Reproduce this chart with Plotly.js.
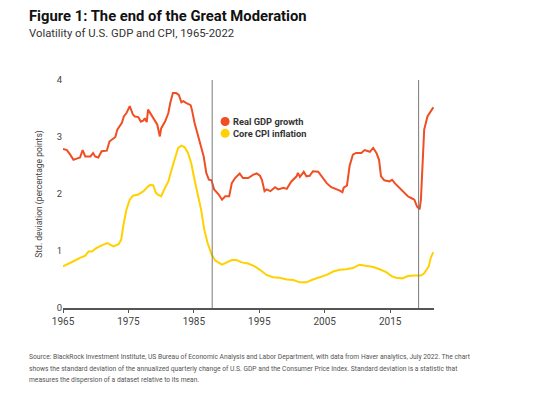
<!DOCTYPE html>
<html><head><meta charset="utf-8">
<script src="https://cdn.plot.ly/plotly-3.0.1.min.js"></script>
<style>html,body{margin:0;padding:0;background:#fff;}#chart{width:558px;height:397px;}</style>
</head><body><div id="chart"></div>
<script>
const gdpYears = [1965,1965.6,1966.1,1966.6,1967.1,1967.6,1968.0,1968.4,1969.2,1969.6,1969.9,1970.4,1970.9,1971.7,1972.1,1973.0,1973.3,1974.0,1974.3,1974.7,1975.2,1975.7,1976.0,1976.5,1976.9,1977.3,1977.5,1977.8,1978.0,1978.5,1979.0,1979.4,1979.8,1980.0,1980.6,1981.1,1981.4,1981.8,1982.3,1982.7,1983.1,1983.4,1983.8,1984.5,1984.7,1985.1,1985.6,1986.1,1986.5,1986.9,1987.3,1987.7,1988.1,1988.8,1989.3,1989.8,1990.4,1990.8,1991.3,1992.0,1992.5,1993.3,1994.1,1994.6,1995.1,1995.4,1995.8,1996.1,1996.7,1997.4,1997.9,1998.7,1999.2,1999.9,2000.7,2000.9,2001.2,2001.8,2002.2,2002.7,2003.2,2004.0,2004.5,2005.3,2006.0,2006.8,2007.3,2007.7,2007.9,2008.4,2008.8,2009.3,2009.8,2010.6,2011.1,2011.9,2012.4,2012.9,2013.3,2013.6,2014.1,2014.9,2015.3,2015.7,2016.2,2016.9,2017.7,2018.2,2018.7,2019.1,2019.5,2019.7,2020.2,2020.7,2021.2,2021.6];
const gdpValues = [2.79,2.77,2.69,2.60,2.62,2.64,2.77,2.66,2.66,2.72,2.66,2.64,2.75,2.76,2.92,3.00,3.13,3.25,3.36,3.42,3.54,3.39,3.36,3.35,3.27,3.29,3.33,3.26,3.48,3.39,3.30,3.22,3.01,3.15,3.27,3.42,3.60,3.77,3.77,3.74,3.61,3.63,3.60,3.56,3.48,3.25,3.04,2.84,2.66,2.37,2.25,2.24,2.08,1.99,1.90,1.96,1.96,2.19,2.28,2.36,2.28,2.28,2.34,2.36,2.32,2.25,2.05,2.08,2.05,2.12,2.08,2.11,2.09,2.22,2.31,2.37,2.30,2.39,2.31,2.32,2.40,2.39,2.31,2.19,2.12,2.09,2.06,2.03,2.11,2.15,2.49,2.69,2.72,2.72,2.77,2.74,2.81,2.72,2.60,2.31,2.24,2.22,2.25,2.19,2.13,2.05,1.96,1.93,1.90,1.78,1.73,1.90,3.13,3.36,3.45,3.52];
const cpiYears = [1965,1965.6,1966.6,1967.6,1968.4,1968.9,1969.4,1970.1,1970.9,1971.8,1972.2,1972.7,1973.5,1973.9,1974.2,1974.7,1975.2,1975.7,1976.5,1977.3,1977.8,1978.3,1978.8,1979.2,1979.5,1980.0,1980.6,1981.1,1981.6,1982.1,1982.6,1983.1,1983.6,1984.1,1984.6,1985.1,1985.6,1986.1,1986.6,1987.1,1987.7,1988.3,1989.3,1990.0,1990.8,1991.5,1992.3,1993.3,1994.3,1995.1,1996.1,1997.1,1998.1,1999.2,2000.2,2001.2,2002.2,2003.2,2004.2,2005.3,2006.3,2007.3,2008.3,2009.3,2009.8,2010.3,2011.3,2012.4,2013.4,2014.4,2015.2,2015.9,2016.9,2017.7,2018.7,2019.7,2020.2,2020.9,2021.2,2021.6];
const cpiValues = [0.73,0.76,0.82,0.88,0.92,0.99,0.99,1.05,1.10,1.14,1.11,1.08,1.12,1.20,1.43,1.73,1.90,1.97,1.99,2.05,2.11,2.16,2.15,2.02,1.99,1.96,2.11,2.22,2.43,2.60,2.81,2.85,2.82,2.72,2.54,2.25,1.96,1.73,1.37,1.14,0.94,0.83,0.76,0.80,0.84,0.84,0.80,0.78,0.73,0.67,0.58,0.54,0.53,0.50,0.49,0.45,0.45,0.50,0.54,0.58,0.64,0.67,0.68,0.70,0.73,0.76,0.74,0.72,0.68,0.63,0.56,0.53,0.52,0.56,0.57,0.57,0.61,0.73,0.88,0.98];
const markerYears = [1987.8, 2019.35];
const xTicks = [1965,1975,1985,1995,2005,2015];
const yTicks = [0,1,2,3,4];
const seriesNames = ['Real GDP growth','Core CPI inflation'];
const seriesColors = ['#F04E23','#FFD100'];
const footLines = [
  'Source: BlackRock Investment Institute, US Bureau of Economic Analysis and Labor Department, with data from Haver analytics, July 2022. The chart',
  'shows the standard deviation of the annualized quarterly change of U.S. GDP and the Consumer Price Index. Standard deviation is a statistic that',
  'measures the dispersion of a dataset relative to its mean.'
];

const traces = [
  {x: cpiYears, y: cpiValues, mode:'lines', line:{color:seriesColors[1], width:2}, showlegend:false, hoverinfo:'skip'},
  {x: gdpYears, y: gdpValues, mode:'lines', line:{color:seriesColors[0], width:2}, showlegend:false, hoverinfo:'skip'}
];
const shapes = markerYears.map(v => ({type:'line', xref:'x', yref:'paper', x0:v, x1:v, y0:0, y1:1, line:{color:'#7a7a7a', width:1}}));
const legX = [0.437, 0.437], legY = [0.818, 0.766];
seriesNames.forEach((n,i)=>{
  shapes.push({type:'circle', xref:'paper', yref:'paper', xsizemode:'pixel', ysizemode:'pixel', xanchor:legX[i], yanchor:legY[i], x0:-4.5, x1:4.5, y0:-4.5, y1:4.5, fillcolor:seriesColors[i], line:{width:0}});
});
const annotations = [
  {text:'<b>Figure 1: The end of the Great Moderation</b>', xref:'paper', yref:'paper', x:-0.097, y:1.281, xanchor:'left', yanchor:'middle', showarrow:false, font:{family:'Roboto, sans-serif', size:14.8, color:'#111'}},
  {text:'Volatility of U.S. GDP and CPI, 1965-2022', xref:'paper', yref:'paper', x:-0.097, y:1.206, xanchor:'left', yanchor:'middle', showarrow:false, font:{family:'Roboto, sans-serif', size:11.3, color:'#333'}}
];
const footY = [357, 369, 380];
footLines.forEach((t,i)=>{
  annotations.push({text:t, xref:'paper', yref:'paper', x:-0.097, y:(308-footY[i])/228, xanchor:'left', yanchor:'middle', align:'left', showarrow:false, font:{family:'Roboto, sans-serif', size:6.7, color:'#555'}});
});
seriesNames.forEach((n,i)=>{
  annotations.push({text:'<b>'+n+'</b>', xref:'paper', yref:'paper', x:legX[i]+0.018, y:legY[i], xanchor:'left', yanchor:'middle', showarrow:false, borderpad:0, font:{family:'Roboto, sans-serif', size:9.3, color:'#333'}});
});

const layout = {
  width:558, height:397,
  margin:{l:63, r:124, t:80, b:89},
  paper_bgcolor:'#fff', plot_bgcolor:'#fff',
  showlegend:false,
  xaxis:{range:[1965,2021.7], tickvals:xTicks, ticktext:xTicks.map(String), showgrid:false, zeroline:false, showline:true, linecolor:'#555', linewidth:1.5, ticks:'outside', ticklen:3, tickcolor:'#555', tickfont:{family:'Roboto, sans-serif', size:10, color:'#444'}},
  yaxis:{range:[0,4], tickvals:yTicks, ticktext:yTicks.map(String), showgrid:false, zeroline:false, showline:false, ticks:'', tickfont:{family:'Roboto, sans-serif', size:9.5, color:'#444'}, title:{text:'Std. deviation (percentage points)', standoff:12, font:{family:'Roboto, sans-serif', size:8.5, color:'#444'}}},
  shapes: shapes,
  annotations: annotations
};
Plotly.newPlot('chart', traces, layout, {displayModeBar:false, staticPlot:true});
</script></body></html>
